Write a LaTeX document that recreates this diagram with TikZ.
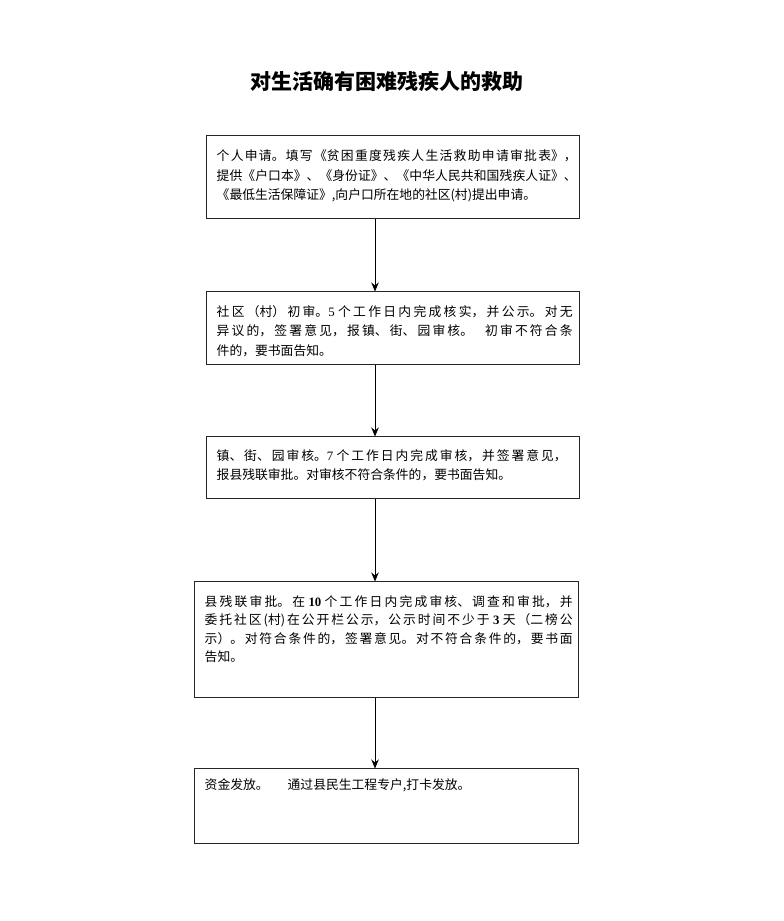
\documentclass[tikz,border=0pt]{standalone}
\usepackage{fontspec}
\setmainfont{Liberation Serif}
\newfontfamily\cjk{Noto Sans CJK SC}
\newfontfamily\latf{Liberation Serif}
\newcommand\dg[1]{{\latf #1}}
\XeTeXlinebreaklocale "zh"
\XeTeXlinebreakskip=0pt plus 6pt
\XeTeXlinebreakpenalty=10000
\usetikzlibrary{arrows.meta}
\begin{document}
\begin{tikzpicture}[x=1pt,y=-1pt,
  box/.style={draw=black!85,line width=1pt,inner sep=0pt},
  txt/.style={anchor=north west,inner sep=0pt,align=justify,text width=#1,font=\cjk\fontsize{12.8}{19.5}\selectfont},
  arr/.style={line width=0.9pt,-{Stealth[length=9pt,width=7.5pt]}}]
\useasboundingbox (0,0) rectangle (784,921);
\fill[white] (0,0) rectangle (784,921);
\node[font=\cjk\bfseries\fontsize{21}{24}\selectfont] (title) at (387,82) {对生活确有困难残疾人的救助};
\coordinate (ax) at (375,0);
\node[box,draw=none,minimum width=372pt,minimum height=82pt] (b1) at (393,177) {};
\node[box,draw=none,minimum width=372pt,minimum height=72pt] (b2) at (393,328) {};
\node[box,draw=none,minimum width=372pt,minimum height=61pt] (b3) at (393,467.5) {};
\node[box,draw=none,minimum width=383pt,minimum height=115pt] (b4) at (386.5,639.5) {};
\node[box,draw=none,minimum width=383pt,minimum height=74pt] (b5) at (386.5,806) {};
\foreach \b in {b1,b2,b3,b4,b5} {\draw[box] (\b.north west) rectangle (\b.south east);}
\node[txt=360pt] (t1) at ([xshift=10pt,yshift=-14pt]b1.north west) {个人申请。填写《贫困重度残疾人生活救助申请审批表》，\linebreak 提供《户口本》、《身份证》、《中华人民共和国残疾人证》、\linebreak《最低生活保障证》,向户口所在地的社区(村)提出申请。};
\node[txt=356pt] (t2) at ([xshift=10pt,yshift=-13.5pt]b2.north west) {社区（村）初审。\dg{5} 个工作日内完成核实，并公示。对无\linebreak 异议的，签署意见，报镇、街、园审核。\hspace*{12pt}初审不符合条\linebreak 件的，要书面告知。};
\node[txt=350pt,font=\cjk\fontsize{12.8}{19}\selectfont] (t3) at ([xshift=10pt,yshift=-12.5pt]b3.north west) {镇、街、园审核。\dg{7} 个工作日内完成审核，并签署意见，\linebreak 报县残联审批。对审核不符合条件的，要书面告知。};
\node[txt=368pt,font=\cjk\fontsize{12.8}{18.5}\selectfont] (t4) at ([xshift=10pt,yshift=-13.5pt]b4.north west) {县残联审批。在 \dg{\textbf{10}} 个工作日内完成审核、调查和审批，并\linebreak 委托社区(村)在公开栏公示，公示时间不少于 \dg{\textbf{3}} 天（二榜公\linebreak 示）。对符合条件的，签署意见。对不符合条件的，要书面\linebreak 告知。};
\node[txt=360pt] (t5) at ([xshift=10pt,yshift=-9.5pt]b5.north west) {资金发放。\hspace*{19pt}通过县民生工程专户,打卡发放。};
\draw[arr] (b1.south -| ax) -- (b2.north -| ax);
\draw[arr] (b2.south -| ax) -- (b3.north -| ax);
\draw[arr] (b3.south -| ax) -- (b4.north -| ax);
\draw[arr] (b4.south -| ax) -- (b5.north -| ax);
\end{tikzpicture}
\end{document}
